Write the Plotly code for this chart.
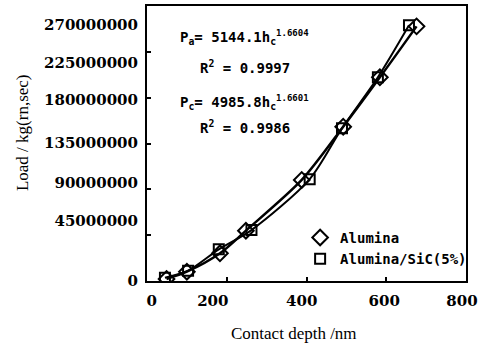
import plotly.graph_objects as go

# Data
alumina_h = [49, 100, 183, 248, 388, 492, 584, 676]
alumina_P = [2.0e6, 9.1e6, 27.2e6, 49.4e6, 99.2e6, 151.5e6, 200.0e6, 250.0e6]
sic_h = [45, 103, 180, 262, 408, 489, 579, 657]
sic_P = [3.2e6, 10.1e6, 31.1e6, 50.0e6, 100.0e6, 150.0e6, 200.0e6, 251.0e6]

y_tick_vals = [0, 45e6, 90e6, 135e6, 180e6, 225e6, 270e6]
y_tick_text = ["0", "45000000", "90000000", "135000000", "180000000", "225000000", "270000000"]
# where the (scanned) labels actually sit on the reference
y_label_pos = [0, 58.9e6, 96.2e6, 135.5e6, 177.7e6, 214.0e6, 251.3e6]

x_tick_vals = [0, 200, 400, 600, 800]
x_tick_text = ["0", "200", "400", "600", "800"]
x_label_pos = [12, 165, 388, 595, 790]

BLACK = "#000000"
tickfont = dict(family="DejaVu Serif", size=15, color=BLACK)

fig = go.Figure()

# fitted curves (drawn through the points)
fig.add_trace(go.Scatter(x=alumina_h, y=alumina_P, mode="lines",
                         line=dict(color=BLACK, width=2.5, shape="spline", smoothing=0.8),
                         showlegend=False, hoverinfo="skip"))
fig.add_trace(go.Scatter(x=sic_h, y=sic_P, mode="lines",
                         line=dict(color=BLACK, width=2, shape="spline", smoothing=0.8),
                         showlegend=False, hoverinfo="skip"))
# markers
fig.add_trace(go.Scatter(x=alumina_h, y=alumina_P, mode="markers", name="<b>Alumina</b>",
                         marker=dict(symbol="diamond-open", size=12, color=BLACK, line=dict(width=2, color=BLACK))))
fig.add_trace(go.Scatter(x=sic_h, y=sic_P, mode="markers", name="<b>Alumina/SiC(5%)</b>",
                         marker=dict(symbol="square-open", size=10, color=BLACK, line=dict(width=2, color=BLACK))))
# invisible anchors for label axes
fig.add_trace(go.Scatter(x=[], y=[], xaxis="x2", yaxis="y2", showlegend=False))

fig.update_layout(
    width=481, height=354,
    margin=dict(l=147, r=15, t=6, b=73),
    paper_bgcolor="white", plot_bgcolor="white",
    xaxis=dict(range=[0, 800], tickvals=x_tick_vals, showticklabels=False, ticks="inside", ticklen=4,
               tickwidth=1.5, tickcolor=BLACK, showline=True, linecolor=BLACK, linewidth=2, mirror=True,
               showgrid=False, zeroline=False, automargin=False),
    yaxis=dict(range=[0, 270e6], tickvals=y_tick_vals, showticklabels=False, ticks="inside", ticklen=4,
               tickwidth=1.5, tickcolor=BLACK, showline=True, linecolor=BLACK, linewidth=2, mirror=True,
               showgrid=False, zeroline=False, automargin=False),
    xaxis2=dict(range=[0, 800], overlaying="x", side="bottom", anchor="y", tickvals=x_label_pos,
                ticktext=["<b>%s</b>" % t for t in x_tick_text], ticks="", showline=False, showgrid=False,
                zeroline=False, tickfont=tickfont, ticklabelstandoff=9, automargin=False),
    yaxis2=dict(range=[0, 270e6], overlaying="y", side="left", anchor="x", tickvals=y_label_pos,
                ticktext=["<b>%s</b>" % t for t in y_tick_text], ticks="", showline=False, showgrid=False,
                zeroline=False, tickfont=tickfont, ticklabelstandoff=8, automargin=False),
    legend=dict(x=0.48, y=0.215, xanchor="left", yanchor="top", bgcolor="rgba(0,0,0,0)",
                font=dict(family="DejaVu Sans Mono", size=14, color=BLACK), itemwidth=30, tracegroupgap=0),
    showlegend=True,
)

titlefont = dict(family="Liberation Serif", size=17, color=BLACK)
fig.add_annotation(x=-0.39, y=0.54, xref="paper", yref="paper", text="Load / kg(rn,sec)", textangle=-90,
                   xanchor="center", yanchor="middle", showarrow=False, font=titlefont)
fig.add_annotation(x=0.46, y=-0.19, xref="paper", yref="paper", text="Contact depth /nm",
                   xanchor="center", yanchor="middle", showarrow=False, font=titlefont)

eqfont = dict(family="DejaVu Sans Mono", size=14, color=BLACK)
sup = '<sup><span style="font-size:9px">%s</span></sup>'
eqs = [
    ("<b>P<sub>a</sub>= 5144.1h<sub>c</sub>" + sup % "1.6604" + "</b>", 0.885),
    ("<b>R<sup>2</sup> = 0.9997</b>", 0.78),
    ("<b>P<sub>c</sub>= 4985.8h<sub>c</sub>" + sup % "1.6601" + "</b>", 0.65),
    ("<b>R<sup>2</sup> = 0.9986</b>", 0.56),
]
for txt, yy in eqs:
    fig.add_annotation(x=0.307, y=yy, xref="paper", yref="paper", text=txt, showarrow=False,
                       xanchor="center", yanchor="middle", font=eqfont)

fig.write_html("out.html", config={"displayModeBar": False},
               post_script="document.body.style.margin='0';")
